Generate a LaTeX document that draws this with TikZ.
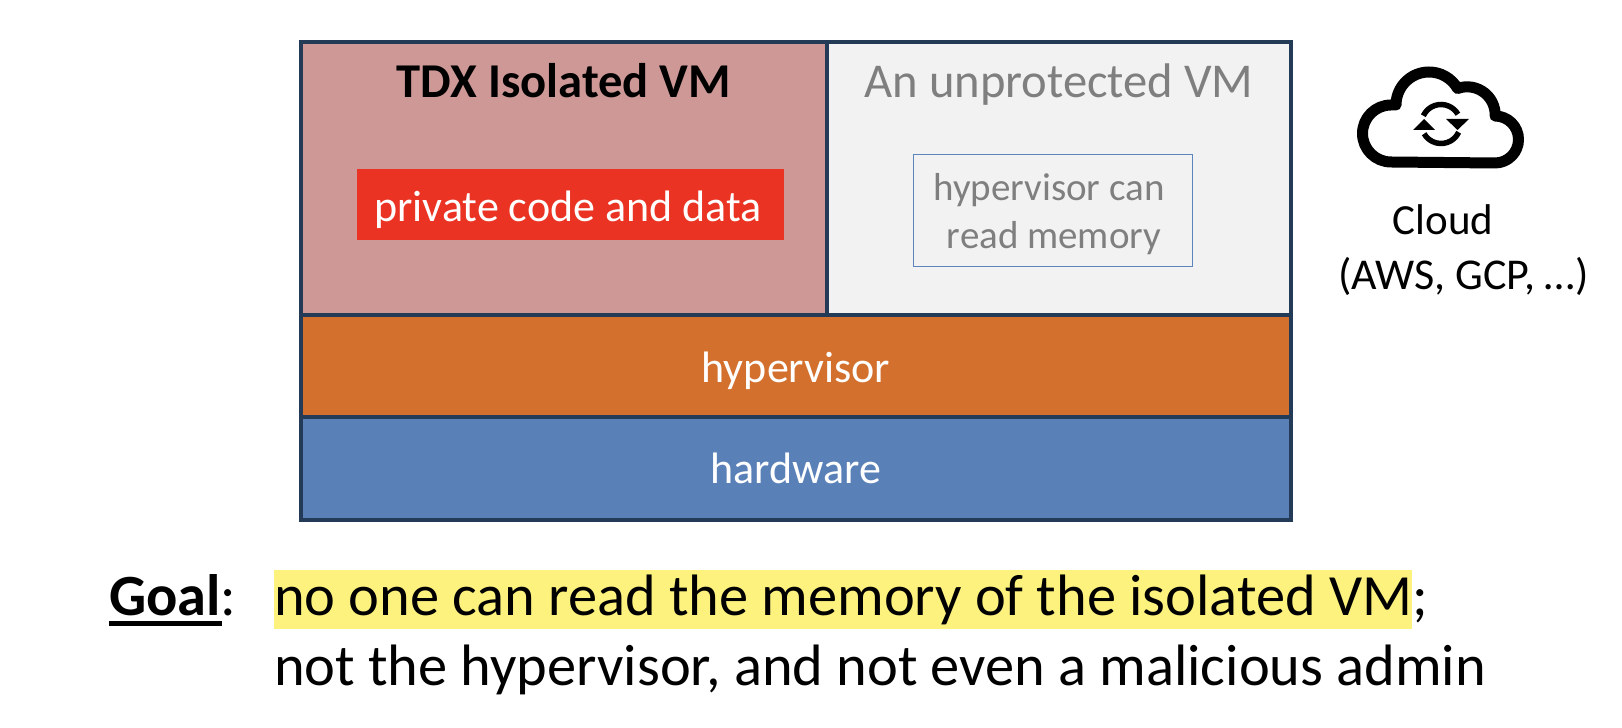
\documentclass[tikz,border=0pt]{standalone}
\usepackage{fontspec}
\usetikzlibrary{calc}
\setmainfont{Carlito}
\definecolor{edgeblue}{HTML}{243B58}
\definecolor{pinkvm}{HTML}{CD9896}
\definecolor{greyvm}{HTML}{F2F2F2}
\definecolor{orangehv}{HTML}{D4702E}
\definecolor{bluehw}{HTML}{5A80B8}
\definecolor{redpriv}{HTML}{EA3323}
\definecolor{greytxt}{HTML}{7F7F7F}
\definecolor{hilite}{HTML}{FDF27E}
\definecolor{thinblue}{HTML}{5B85BC}
\tikzset{
  layerbox/.style={draw=edgeblue,line width=4pt,inner sep=0pt,minimum width=#1},
  txt/.style={inner sep=0pt,anchor=base,font=\fontsize{44}{50}\selectfont},
  headtxt/.style={inner sep=0pt,anchor=base,font=\fontsize{48.6}{54}\selectfont},
  smalltxt/.style={inner sep=0pt,anchor=base,font=\fontsize{39}{44}\selectfont,text=greytxt},
  goaltxt/.style={inner sep=0pt,anchor=base west,font=\fontsize{58.4}{64}\selectfont},
  cloudline/.style={line width=11pt,line join=round,draw=black},
  ringline/.style={line width=5.5pt,draw=black}
}
\begin{document}
\begin{tikzpicture}[x=1pt,y=1pt]
\useasboundingbox (0,0) rectangle (1622,728);
% layers
\node[layerbox=990pt,minimum height=102pt,fill=orangehv] (hv) at (796,362) {};
\node[layerbox=990pt,minimum height=103pt,fill=bluehw] (hw) at (796,259.5) {};
\node[layerbox=526pt,minimum height=273pt,fill=pinkvm] (tdx) at (564,549.5) {};
\node[layerbox=464pt,minimum height=273pt,fill=greyvm] (unp) at (1059,549.5) {};
\node[txt,text=white] (hvt) at (796,345) {hypervisor};
\node[txt,text=white] (hwt) at (796,244) {hardware};
\node[headtxt,font=\fontsize{48.6}{54}\selectfont\bfseries] (tdxt) at (564,630) {TDX Isolated VM};
\node[headtxt,text=greytxt] (unpt) at (1059,630) {An unprotected VM};
\node[inner sep=0pt,fill=redpriv,minimum width=427pt,minimum height=71pt] (priv) at (570.5,523.5) {};
\node[txt,text=white] (privt) at (568,506) {private code and data};
\node[draw=thinblue,line width=1.6pt,fill=greyvm,inner sep=0pt,minimum width=279pt,minimum height=112pt] (mem) at (1053,517.5) {};
\node[smalltxt] (memt1) at (1049,527) {hypervisor can};
\node[smalltxt] (memt2) at (1054,479) {read memory};
% cloud icon
\draw[cloudline] (1391,566) arc[start angle=270,end angle=90,radius=28.5]
  -- (1396,623) arc[start angle=180,end angle=30,radius=33]
  arc[start angle=110,end angle=0,radius=28]
  -- (1495,612) arc[start angle=90,end angle=-90,radius=23.5] -- cycle;
\coordinate (ringc) at (1441,604);
\draw[ringline] ($(ringc)+(155:19.5)$) arc[start angle=155,end angle=30,radius=19.5];
\draw[ringline] ($(ringc)+(-25:19.5)$) arc[start angle=-25,end angle=-150,radius=19.5];
\fill (1446,609) -- (1469,609) -- (1457.5,598) -- cycle;
\fill (1413,598) -- (1435,598) -- (1424,609) -- cycle;
\node[txt,font=\fontsize{43}{48}\selectfont] (cl1) at (1443,493) {Cloud};
\node[txt] (cl2) at (1463.5,438) {(AWS, GCP, …)};
% goal
\fill[hilite] (274,99) rectangle (1412,158);
\node[goaltxt] (goal) at (109,112.5) {\textbf{Goal}:};
\draw[line width=5pt] (109,104) -- (222,104);
\node[goaltxt] (g1) at (274,112.5) {no one can read the memory of the isolated VM;};
\node[goaltxt] (g2) at (274,42) {not the hypervisor, and not even a malicious admin};
\end{tikzpicture}
\end{document}
